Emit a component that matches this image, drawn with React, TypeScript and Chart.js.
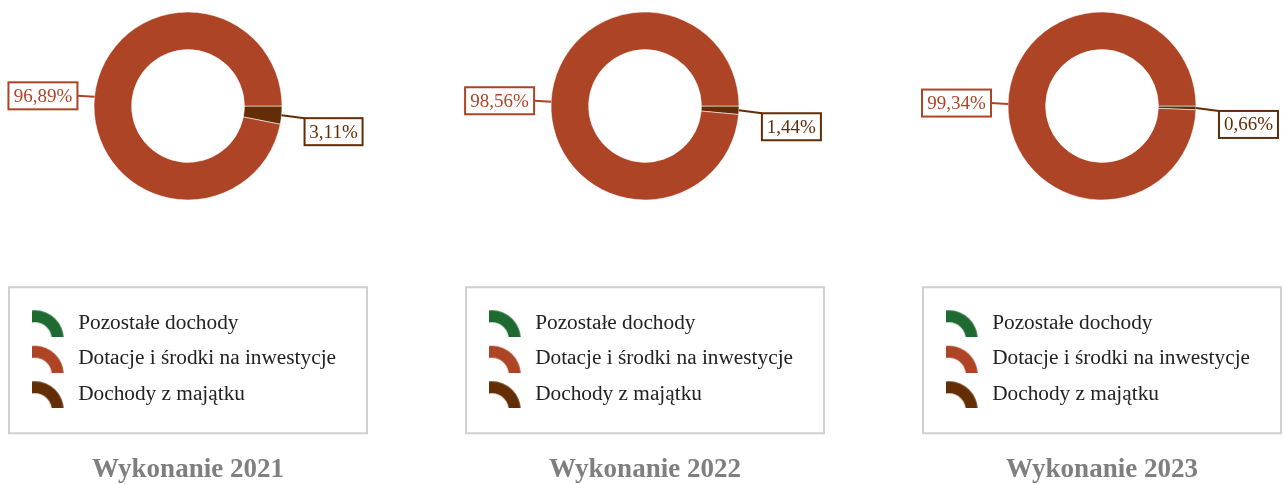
import React, { useEffect, useRef } from 'react';
import { Chart, registerables } from 'chart.js';

Chart.register(...registerables);

// ---- data ----
const categories = ['Pozostałe dochody', 'Dotacje i środki na inwestycje', 'Dochody z majątku'];
const panelTitles = ['Wykonanie 2021', 'Wykonanie 2022', 'Wykonanie 2023'];
const values2021 = [0, 96.89, 3.11];
const values2022 = [0, 98.56, 1.44];
const values2023 = [0, 99.34, 0.66];
const seriesValues = [values2021, values2022, values2023];
const sliceColors = ['#1F6A31', '#AD4426', '#632D06'];

const FONT = "'Liberation Serif', 'Times New Roman', serif";
Chart.defaults.font.family = FONT;

function makeIcon(color: string): HTMLCanvasElement {
  const c = document.createElement('canvas');
  c.width = 36;
  c.height = 28;
  const ctx = c.getContext('2d')!;
  ctx.fillStyle = color;
  ctx.beginPath();
  ctx.arc(3, 30, 29, Math.PI, 2 * Math.PI);
  ctx.arc(3, 30, 17, 2 * Math.PI, Math.PI, true);
  ctx.closePath();
  ctx.fill();
  return c;
}

function fmt(v: number): string {
  return v.toFixed(2).replace('.', ',') + '%';
}

const sliceLabelPlugin = {
  id: 'sliceLabels',
  afterDatasetsDraw(chart: any) {
    const ctx = chart.ctx;
    const ds = chart.data.datasets[0];
    const meta = chart.getDatasetMeta(0);
    meta.data.forEach((arc: any, i: number) => {
      const v = ds.data[i];
      if (!v) return;
      const { x, y, startAngle, endAngle, outerRadius } = arc.getProps(
        ['x', 'y', 'startAngle', 'endAngle', 'outerRadius'],
        true
      );
      const mid = (startAngle + endAngle) / 2;
      const ax = x + Math.cos(mid) * outerRadius;
      const ay = y + Math.sin(mid) * outerRadius;
      const color = ds.backgroundColor[i];
      const text = fmt(v);
      ctx.save();
      ctx.font = `19px ${FONT}`;
      const tw = ctx.measureText(text).width;
      const bw = Math.round(tw + 10);
      const bh = 27;
      let bx: number, by: number, lx: number, ly: number;
      if (Math.cos(mid) < 0) {
        lx = ax - 17;
        ly = ay - 1;
        bx = lx - bw;
        by = ly - bh / 2;
      } else {
        lx = ax + 23;
        ly = ay + 3;
        bx = lx;
        by = ly;
      }
      ctx.strokeStyle = color;
      ctx.lineWidth = 2;
      ctx.beginPath();
      ctx.moveTo(ax, ay);
      ctx.lineTo(lx, ly);
      ctx.stroke();
      ctx.fillStyle = '#ffffff';
      ctx.fillRect(bx, by, bw, bh);
      ctx.strokeRect(bx, by, bw, bh);
      ctx.fillStyle = color;
      ctx.textAlign = 'center';
      ctx.textBaseline = 'middle';
      ctx.fillText(text, bx + bw / 2, by + bh / 2 + 1);
      ctx.restore();
    });
  },
};

const legendFramePlugin = {
  id: 'legendFrame',
  afterDraw(chart: any) {
    const lg = chart.legend;
    if (!lg || !lg.legendHitBoxes || !lg.legendHitBoxes.length) return;
    const firstTop = lg.legendHitBoxes[0].top;
    const top = firstTop - 25.35;
    const bottom = firstTop + 120.65;
    const ctx = chart.ctx;
    ctx.save();
    ctx.strokeStyle = '#d0d0d0';
    ctx.lineWidth = 2;
    ctx.strokeRect(9, top, 358, bottom - top);
    ctx.restore();
  },
};

function Panel({ index }: { index: number }) {
  const ref = useRef<HTMLCanvasElement | null>(null);
  useEffect(() => {
    const values = seriesValues[index];
    const order = [2, 1, 0];
    const icons = sliceColors.map((c) => makeIcon(c));
    const chart = new Chart(ref.current!, {
      type: 'doughnut',
      data: {
        labels: order.map((k) => categories[k]),
        datasets: [
          {
            data: order.map((k) => values[k]),
            backgroundColor: order.map((k) => sliceColors[k]),
            borderColor: 'rgba(255,255,255,0.55)',
            borderWidth: 1,
          },
        ],
      },
      options: {
        responsive: false,
        animation: false,
        events: [],
        rotation: 90,
        cutout: '60%',
        radius: 94,
        layout: { padding: { left: 17.8, right: 17.8, top: 0, bottom: 0 } },
        plugins: {
          tooltip: { enabled: false },
          legend: {
            display: true,
            position: 'bottom',
            align: 'start',
            title: {
              display: true,
              text: '',
              font: { size: 10, lineHeight: 1 },
              padding: { top: 76.4, bottom: 0 },
            },
            labels: {
              usePointStyle: true,
              pointStyleWidth: 35.5,
              padding: 14.2,
              color: '#222222',
              font: { size: 21.3, family: FONT },
              generateLabels: () =>
                categories.map((cat, k) => ({
                  text: cat,
                  fillStyle: sliceColors[k],
                  strokeStyle: sliceColors[k],
                  fontColor: '#222222',
                  lineWidth: 0,
                  pointStyle: icons[k],
                  hidden: false,
                  index: k,
                })),
            },
          },
          title: {
            display: true,
            position: 'bottom',
            text: panelTitles[index],
            color: '#7f7f7f',
            font: { size: 27, weight: 'bold', family: FONT, lineHeight: 1 },
            padding: { top: 41.6, bottom: 0.5 },
          },
        },
      } as any,
      plugins: [sliceLabelPlugin, legendFramePlugin],
    });
    return () => chart.destroy();
  }, [index]);
  return (
    <div style={{ position: 'absolute', left: index * 457, top: 0, width: 376, height: 484 }}>
      <canvas ref={ref} width={376} height={484} style={{ display: 'block' }} />
    </div>
  );
}

export default function App() {
  return (
    <div
      style={{
        position: 'fixed',
        left: 0,
        top: 0,
        width: 1283,
        height: 484,
        overflow: 'hidden',
        background: '#ffffff',
      }}
    >
      {[0, 1, 2].map((i) => (
        <Panel key={i} index={i} />
      ))}
    </div>
  );
}
